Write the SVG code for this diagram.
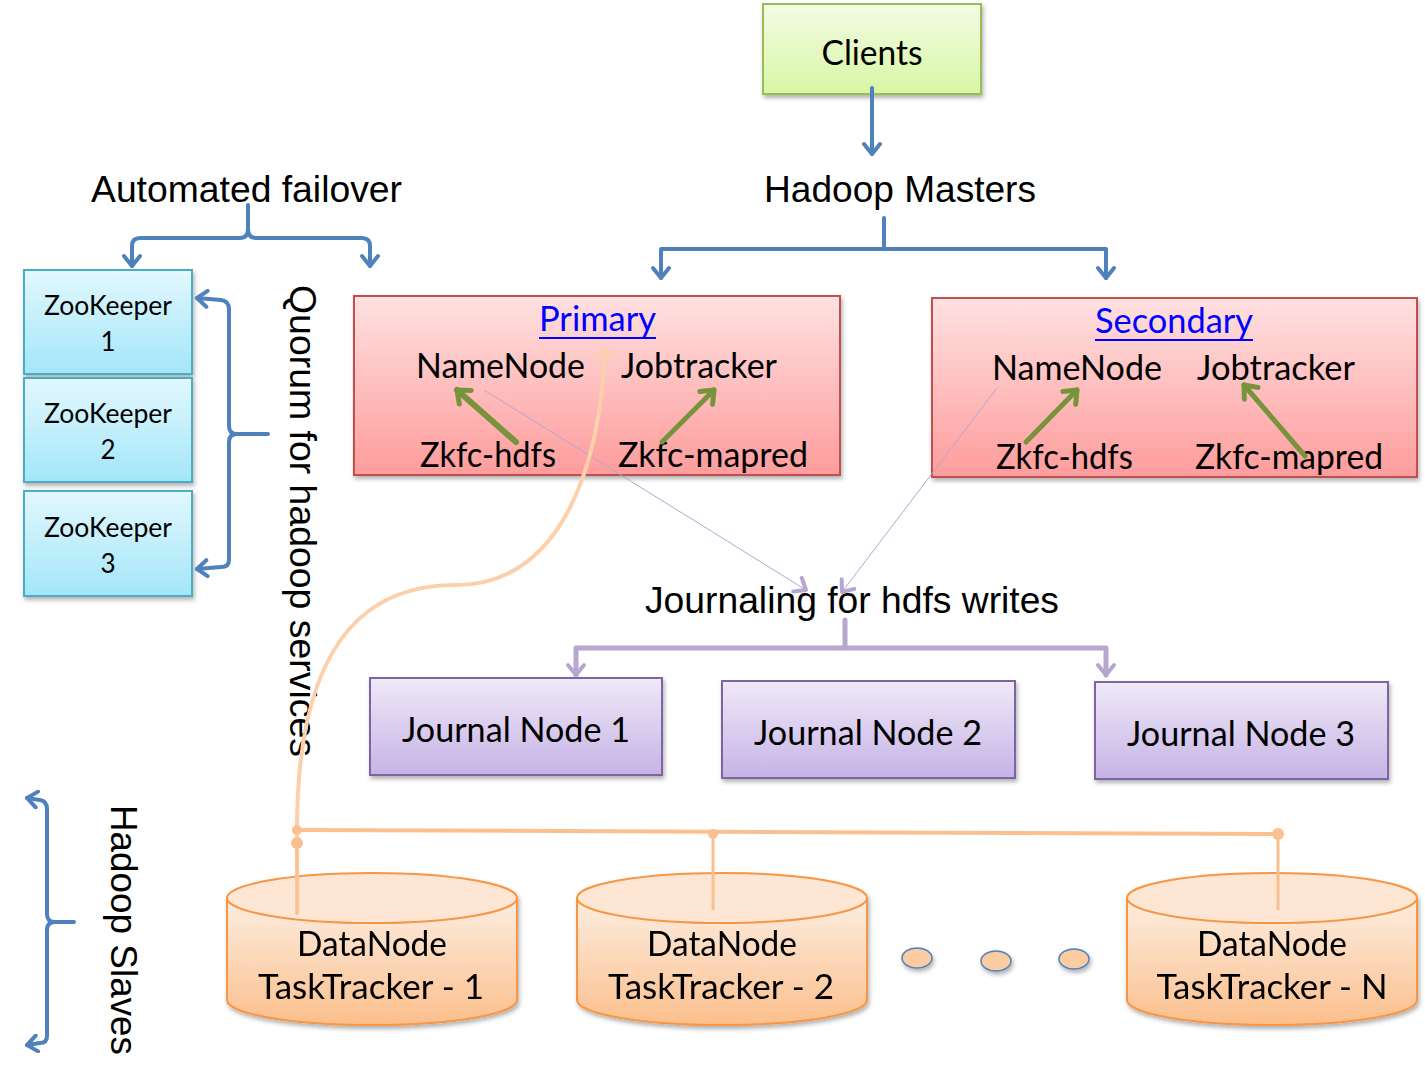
<svg xmlns="http://www.w3.org/2000/svg" width="1425" height="1071" viewBox="0 0 1425 1071">
<defs>
<linearGradient id="gGreen" x1="0" y1="0" x2="0" y2="1"><stop offset="0" stop-color="#f2fce4"/><stop offset="1" stop-color="#d8f6a4"/></linearGradient>
<linearGradient id="gBlue" x1="0" y1="0" x2="0" y2="1"><stop offset="0" stop-color="#e2f8fe"/><stop offset="1" stop-color="#a3e6f9"/></linearGradient>
<linearGradient id="gRed" x1="0" y1="0" x2="0" y2="1"><stop offset="0" stop-color="#ffe1e1"/><stop offset="1" stop-color="#fe9c9c"/></linearGradient>
<linearGradient id="gPurple" x1="0" y1="0" x2="0" y2="1"><stop offset="0" stop-color="#efe9f8"/><stop offset="1" stop-color="#c6b3e6"/></linearGradient>
<linearGradient id="gOrange" x1="0" y1="0" x2="0" y2="1"><stop offset="0" stop-color="#fdeee2"/><stop offset="1" stop-color="#fbbf8c"/></linearGradient>
<filter id="sh" x="-10%" y="-10%" width="130%" height="140%"><feDropShadow dx="1.5" dy="3" stdDeviation="2" flood-color="#000" flood-opacity="0.3"/></filter>
<marker id="mBlue" viewBox="0 0 20 20" markerUnits="userSpaceOnUse" markerWidth="20" markerHeight="20" refX="17" refY="10" orient="auto-start-reverse"><path d="M7,2 L17,10 L7,18" fill="none" stroke="#4f81bd" stroke-width="4" stroke-linecap="round" stroke-linejoin="round"/></marker>
<marker id="mGreen" viewBox="0 0 24 24" markerUnits="userSpaceOnUse" markerWidth="24" markerHeight="24" refX="20" refY="12" orient="auto"><path d="M9,3 L20,12 L9,21" fill="none" stroke="#77933c" stroke-width="5" stroke-linecap="round" stroke-linejoin="round"/></marker>
<marker id="mPurple" viewBox="0 0 20 20" markerUnits="userSpaceOnUse" markerWidth="20" markerHeight="20" refX="17" refY="10" orient="auto-start-reverse"><path d="M7,2 L17,10 L7,18" fill="none" stroke="#b7a6d0" stroke-width="4" stroke-linecap="round" stroke-linejoin="round"/></marker>
<marker id="mPeach" viewBox="0 0 20 20" markerUnits="userSpaceOnUse" markerWidth="20" markerHeight="20" refX="17" refY="10" orient="auto"><path d="M8,3 L17,10 L8,17" fill="none" stroke="#fbd0aa" stroke-width="4" stroke-linecap="round" stroke-linejoin="round"/></marker>
</defs>
<style>
.ar{font-family:"Liberation Sans",Arial,sans-serif;font-size:37px;fill:#000}
.ca{font-family:Lato,"Open Sans",sans-serif;font-size:34px;fill:#000}
.zk{font-family:Lato,"Open Sans",sans-serif;font-size:26px;fill:#000}
.lnk{font-family:Lato,"Open Sans",sans-serif;font-size:34px;fill:#0000ff}
.blue{fill:none;stroke:#4f81bd;stroke-width:4;stroke-linecap:round;stroke-linejoin:round}
.grn{fill:none;stroke:#77933c;stroke-width:5;stroke-linecap:round}
.pur{fill:none;stroke:#b7a6d0;stroke-width:5;stroke-linecap:round;stroke-linejoin:round}
.thin{fill:none;stroke:#b3a6d2;stroke-width:1}
.peach{fill:none;stroke:#fbd0aa;stroke-width:4}
.bus{fill:none;stroke:#fac090;stroke-width:4}
</style>
<rect width="1425" height="1071" fill="#fff"/>

<g id="clients">
<rect x="763" y="4" width="218" height="90" fill="url(#gGreen)" stroke="#9bbb59" stroke-width="2" filter="url(#sh)"/>
<text class="ca" x="872" y="65" text-anchor="middle" textLength="101" lengthAdjust="spacingAndGlyphs">Clients</text>
</g>

<g id="labels">
<text class="ar" x="764" y="202" textLength="272" lengthAdjust="spacingAndGlyphs">Hadoop Masters</text>
<text class="ar" x="91" y="202" textLength="311" lengthAdjust="spacingAndGlyphs">Automated failover</text>
<text class="ar" x="645" y="613" textLength="414" lengthAdjust="spacingAndGlyphs">Journaling for hdfs writes</text>
<text class="ar" transform="translate(290,285) rotate(90)" textLength="472" lengthAdjust="spacingAndGlyphs">Quorum for hadoop services</text>
<text class="ar" transform="translate(111,805) rotate(90)" textLength="250" lengthAdjust="spacingAndGlyphs">Hadoop Slaves</text>
</g>

<g id="zk1">
<rect x="24" y="270" width="168" height="104" fill="url(#gBlue)" stroke="#4bacc6" stroke-width="2" filter="url(#sh)"/>
<text class="zk" x="108" y="315" text-anchor="middle" textLength="128" lengthAdjust="spacingAndGlyphs">ZooKeeper</text>
<text class="zk" x="108" y="351" text-anchor="middle">1</text>
</g>
<g id="zk2">
<rect x="24" y="378" width="168" height="104" fill="url(#gBlue)" stroke="#4bacc6" stroke-width="2" filter="url(#sh)"/>
<text class="zk" x="108" y="423" text-anchor="middle" textLength="128" lengthAdjust="spacingAndGlyphs">ZooKeeper</text>
<text class="zk" x="108" y="459" text-anchor="middle">2</text>
</g>
<g id="zk3">
<rect x="24" y="491" width="168" height="105" fill="url(#gBlue)" stroke="#4bacc6" stroke-width="2" filter="url(#sh)"/>
<text class="zk" x="108" y="537" text-anchor="middle" textLength="128" lengthAdjust="spacingAndGlyphs">ZooKeeper</text>
<text class="zk" x="108" y="573" text-anchor="middle">3</text>
</g>

<g id="primary">
<rect x="354" y="296" width="486" height="179" fill="url(#gRed)" stroke="#c0504d" stroke-width="2" filter="url(#sh)"/>
<text class="lnk" x="539" y="331" textLength="117" lengthAdjust="spacingAndGlyphs">Primary</text>
<line x1="539" y1="338" x2="656" y2="338" stroke="#0000ff" stroke-width="2"/>
<text class="ca" x="416" y="378" textLength="169" lengthAdjust="spacingAndGlyphs">NameNode</text>
<text class="ca" x="621" y="378" textLength="156" lengthAdjust="spacingAndGlyphs">Jobtracker</text>
<text class="ca" x="420" y="467" textLength="136" lengthAdjust="spacingAndGlyphs">Zkfc-hdfs</text>
<text class="ca" x="618" y="467" textLength="190" lengthAdjust="spacingAndGlyphs">Zkfc-mapred</text>
</g>

<g id="secondary">
<rect x="932" y="298" width="485" height="179" fill="url(#gRed)" stroke="#c0504d" stroke-width="2" filter="url(#sh)"/>
<text class="lnk" x="1095" y="333" textLength="158" lengthAdjust="spacingAndGlyphs">Secondary</text>
<line x1="1095" y1="340" x2="1253" y2="340" stroke="#0000ff" stroke-width="2"/>
<text class="ca" x="992" y="380" textLength="170" lengthAdjust="spacingAndGlyphs">NameNode</text>
<text class="ca" x="1197" y="380" textLength="158" lengthAdjust="spacingAndGlyphs">Jobtracker</text>
<text class="ca" x="996" y="469" textLength="137" lengthAdjust="spacingAndGlyphs">Zkfc-hdfs</text>
<text class="ca" x="1195" y="469" textLength="188" lengthAdjust="spacingAndGlyphs">Zkfc-mapred</text>
</g>

<g id="jn1">
<rect x="370" y="678" width="292" height="97" fill="url(#gPurple)" stroke="#8064a2" stroke-width="2" filter="url(#sh)"/>
<text class="ca" x="516" y="742" text-anchor="middle" textLength="228" lengthAdjust="spacingAndGlyphs">Journal Node 1</text>
</g>
<g id="jn2">
<rect x="722" y="681" width="293" height="97" fill="url(#gPurple)" stroke="#8064a2" stroke-width="2" filter="url(#sh)"/>
<text class="ca" x="868" y="745" text-anchor="middle" textLength="228" lengthAdjust="spacingAndGlyphs">Journal Node 2</text>
</g>
<g id="jn3">
<rect x="1095" y="682" width="293" height="97" fill="url(#gPurple)" stroke="#8064a2" stroke-width="2" filter="url(#sh)"/>
<text class="ca" x="1241" y="746" text-anchor="middle" textLength="228" lengthAdjust="spacingAndGlyphs">Journal Node 3</text>
</g>

<g id="dn1" filter="url(#sh)">
<path d="M227,898 L227,1000 A145,25 0 0 0 517,1000 L517,898 Z" fill="url(#gOrange)" stroke="#f79646" stroke-width="2"/>
<ellipse cx="372" cy="898" rx="145" ry="25" fill="#fde6d4" stroke="#f79646" stroke-width="2"/>
<text class="ca" x="372" y="956" text-anchor="middle" textLength="150" lengthAdjust="spacingAndGlyphs">DataNode</text>
<text class="ca" x="371" y="999" text-anchor="middle" textLength="226" lengthAdjust="spacingAndGlyphs">TaskTracker - 1</text>
</g>
<g id="dn2" filter="url(#sh)">
<path d="M577,898 L577,1000 A145,25 0 0 0 867,1000 L867,898 Z" fill="url(#gOrange)" stroke="#f79646" stroke-width="2"/>
<ellipse cx="722" cy="898" rx="145" ry="25" fill="#fde6d4" stroke="#f79646" stroke-width="2"/>
<text class="ca" x="722" y="956" text-anchor="middle" textLength="150" lengthAdjust="spacingAndGlyphs">DataNode</text>
<text class="ca" x="721" y="999" text-anchor="middle" textLength="226" lengthAdjust="spacingAndGlyphs">TaskTracker - 2</text>
</g>
<g id="dnN" filter="url(#sh)">
<path d="M1127,898 L1127,1000 A145,25 0 0 0 1417,1000 L1417,898 Z" fill="url(#gOrange)" stroke="#f79646" stroke-width="2"/>
<ellipse cx="1272" cy="898" rx="145" ry="25" fill="#fde6d4" stroke="#f79646" stroke-width="2"/>
<text class="ca" x="1272" y="956" text-anchor="middle" textLength="150" lengthAdjust="spacingAndGlyphs">DataNode</text>
<text class="ca" x="1272" y="999" text-anchor="middle" textLength="231" lengthAdjust="spacingAndGlyphs">TaskTracker - N</text>
</g>

<g id="ellipsis" filter="url(#sh)">
<ellipse cx="917" cy="958" rx="15" ry="10" fill="#fbcba2" stroke="#4f81bd" stroke-width="1.5"/>
<ellipse cx="996" cy="961" rx="15" ry="10" fill="#fbcba2" stroke="#4f81bd" stroke-width="1.5"/>
<ellipse cx="1074" cy="959" rx="15" ry="10" fill="#fbcba2" stroke="#4f81bd" stroke-width="1.5"/>
</g>

<g id="connectors">
<path class="blue" d="M872,88 L872,154" marker-end="url(#mBlue)"/>
<path class="blue" d="M884,218 L884,249"/>
<path class="blue" d="M661,278 L661,249 L1106,249 L1106,278" marker-start="url(#mBlue)" marker-end="url(#mBlue)"/>
<path class="blue" d="M248,205 L248,229 Q248,238 240,238 L140,238 Q132,238 132,246 L132,266" marker-end="url(#mBlue)"/>
<path class="blue" d="M248,229 Q248,238 256,238 L362,238 Q370,238 370,246 L370,266" marker-end="url(#mBlue)"/>
<path class="blue" d="M268,434 L237,434 Q229,434 229,426 L229,309 Q229,301 221,300 L197,298" marker-end="url(#mBlue)"/>
<path class="blue" d="M237,434 Q229,434 229,442 L229,560 Q229,567 221,567 L197,569" marker-end="url(#mBlue)"/>
<path class="blue" d="M74,922 L55,922 Q47,922 47,914 L47,809 Q47,801 40,800 L27,798" marker-end="url(#mBlue)"/>
<path class="blue" d="M55,922 Q47,922 47,930 L47,1036 Q47,1043 40,1043 L27,1045" marker-end="url(#mBlue)"/>

<path class="grn" style="stroke-width:6" d="M516,442 L457,390" marker-end="url(#mGreen)"/>
<path class="grn" d="M662,442 L714,390" marker-end="url(#mGreen)"/>
<path class="grn" d="M1026,442 L1077,390" marker-end="url(#mGreen)"/>
<path class="grn" d="M1305,456 L1244,385" marker-end="url(#mGreen)"/>

<path class="thin" d="M484,390 L806,590" marker-end="url(#mPurple)"/>
<path class="thin" d="M997,388 L842,592" marker-end="url(#mPurple)"/>

<path class="pur" d="M845,620 L845,648"/>
<path class="pur" d="M576,675 L576,648 L1106,648 L1106,675" marker-start="url(#mPurple)" marker-end="url(#mPurple)"/>

<path class="peach" d="M297,915 L297,830 C297,690 335,585 455,585 C560,585 600,470 605,348" marker-end="url(#mPeach)"/>
<path class="bus" d="M297,830 L1278,834"/>
<path class="bus" style="stroke-width:3" d="M297,843 L297,915"/>
<path class="bus" style="stroke-width:3" d="M713,834 L713,910"/>
<path class="bus" style="stroke-width:3" d="M1278,834 L1278,910"/>
<circle cx="297" cy="830" r="5" fill="#fac090"/>
<circle cx="297" cy="843" r="6" fill="#fac090"/>
<circle cx="713" cy="834" r="5" fill="#fac090"/>
<circle cx="1278" cy="834" r="6" fill="#fac090"/>
</g>
</svg>
